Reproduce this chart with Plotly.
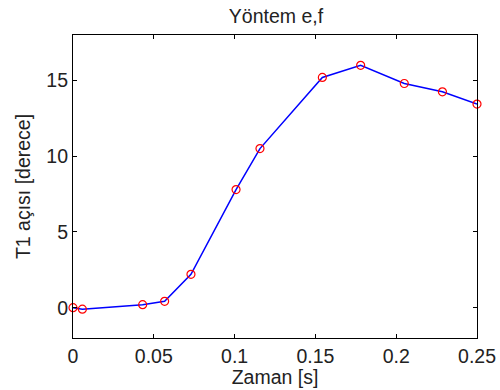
import plotly.graph_objects as go

# Time samples [s] and T1 angle [deg]
zaman = [0.0, 0.0058, 0.0431, 0.0567, 0.073, 0.1009, 0.1157, 0.1543, 0.178, 0.205, 0.2286, 0.25]
t1_aci = [0.0, -0.1, 0.2, 0.42, 2.2, 7.8, 10.5, 15.2, 16.0, 14.8, 14.25, 13.44]

x_ticks = [0, 0.05, 0.1, 0.15, 0.2, 0.25]
x_tick_labels = ["0", "0.05", "0.1", "0.15", "0.2", "0.25"]
y_ticks = [0, 5, 10, 15]

font_family = "Liberation Sans, Arial, sans-serif"
fs = 19.5

fig = go.Figure()
fig.add_trace(go.Scatter(
    x=zaman, y=t1_aci, mode="lines",
    line=dict(color="#0000ff", width=1.5),
    showlegend=False,
))
fig.add_trace(go.Scatter(
    x=zaman, y=t1_aci, mode="markers",
    marker=dict(symbol="circle-open", color="#ff0000", size=8, line=dict(width=1.2)),
    showlegend=False, cliponaxis=False,
))

axis_common = dict(
    showgrid=False, zeroline=False, showline=True, linecolor="black", linewidth=1.2,
    mirror="ticks", ticks="inside", ticklen=4, tickcolor="black", tickwidth=1,
    tickfont=dict(size=fs, color="#222"), automargin=False,
)

fig.update_layout(
    width=500, height=390,
    margin=dict(l=73, r=23, t=35, b=52),
    paper_bgcolor="white", plot_bgcolor="white",
    font=dict(family=font_family, color="#222"),
    title=dict(text="Yöntem e,f", x=0.552, xanchor="center", y=0.958, yanchor="middle",
               font=dict(size=fs, color="#222")),
    xaxis=dict(range=[0, 0.25], tickvals=x_ticks, ticktext=x_tick_labels,
               title=dict(text="Zaman [s]", font=dict(size=fs), standoff=0), **axis_common),
    yaxis=dict(range=[-2, 18], tickvals=y_ticks,
               title=dict(text="T1 açısı [derece]", font=dict(size=fs), standoff=10), **axis_common),
)

fig.write_html("out.html")
